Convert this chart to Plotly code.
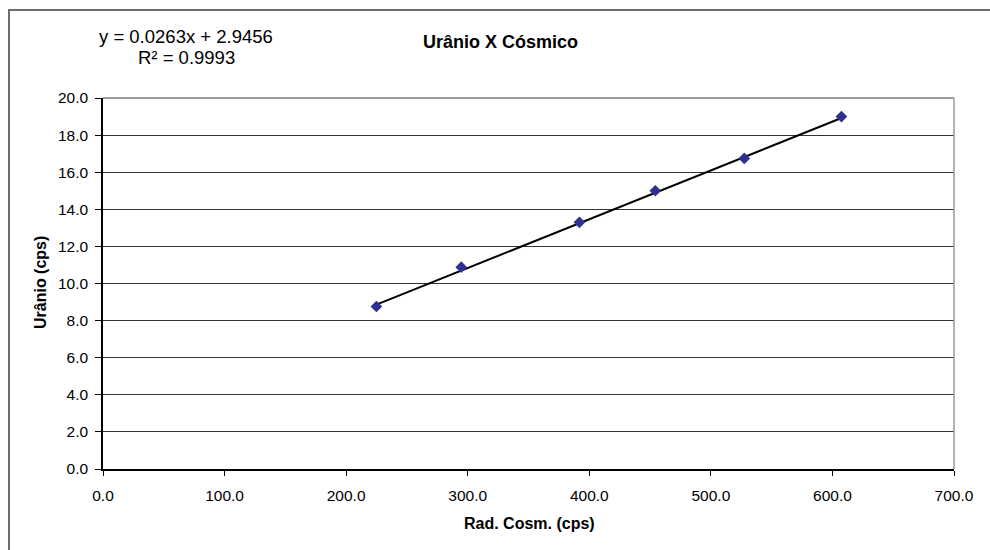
import plotly.graph_objects as go

# Cosmic radiation count rate vs. uranium count rate
rad_cosm = [224.9, 294.7, 391.9, 454.3, 527.5, 607.4]
uranio = [8.76, 10.88, 13.30, 15.00, 16.74, 19.00]

# Linear trendline coefficients (as printed on the chart)
slope = 0.0263
intercept = 2.9456
r_squared = 0.9993

title_text = "Urânio X Cósmico"
x_title = "Rad. Cosm. (cps)"
y_title = "Urânio (cps)"

W, H = 990, 550
ML, MR, MT, MB = 103, 36, 98, 81
PW, PH = W - ML - MR, H - MT - MB


def px_x(p):
    return (p - ML) / PW


def px_y(p):
    return (H - MB - p) / PH


FONT = "Liberation Sans, Arial, sans-serif"

trend_x = [min(rad_cosm), max(rad_cosm)]
trend_y = [slope * v + intercept for v in trend_x]

fig = go.Figure()
fig.add_trace(go.Scatter(
    x=trend_x, y=trend_y, mode="lines",
    line=dict(color="black", width=2), hoverinfo="skip", showlegend=False,
))
fig.add_trace(go.Scatter(
    x=rad_cosm, y=uranio, mode="markers",
    marker=dict(symbol="diamond", size=9, color="#2e3192",
                line=dict(color="#2e3192", width=0)),
    showlegend=False,
))

fig.update_layout(
    width=W, height=H,
    margin=dict(l=ML, r=MR, t=MT, b=MB),
    paper_bgcolor="white", plot_bgcolor="white",
    font=dict(family=FONT, color="black", size=15.5),
    xaxis=dict(
        range=[0, 700], dtick=100, tickformat=".1f",
        showgrid=False, zeroline=False,
        showline=True, linecolor="black", linewidth=1.5,
        ticks="outside", ticklen=5, tickcolor="black", tickwidth=1,
        ticklabelstandoff=7,
        tickfont=dict(size=15.5),
    ),
    yaxis=dict(
        range=[0, 20], dtick=2, tickformat=".1f",
        showgrid=True, gridcolor="#333333", gridwidth=1.2,
        zeroline=False,
        showline=True, linecolor="black", linewidth=1.5,
        ticks="outside", ticklen=6, tickcolor="black", tickwidth=1,
        ticklabelstandoff=4,
        tickfont=dict(size=15.5),
    ),
    shapes=[
        # outer chart frame (left and top edges visible)
        dict(type="rect", xref="paper", yref="paper",
             x0=px_x(9), x1=px_x(1200), y0=px_y(700), y1=px_y(10),
             line=dict(color="#6e6e6e", width=2), layer="below"),
        # plot area border, top and right
        dict(type="line", xref="paper", yref="paper",
             x0=0, x1=1, y0=1, y1=1, line=dict(color="#7a7a7a", width=1.5)),
        dict(type="line", xref="paper", yref="paper",
             x0=1, x1=1, y0=0, y1=1, line=dict(color="#9a9a9a", width=1.5)),
    ],
    annotations=[
        dict(text=f"<b>{title_text}</b>", xref="paper", yref="paper",
             x=px_x(500), y=px_y(42), showarrow=False,
             xanchor="center", yanchor="middle", font=dict(size=18)),
        dict(text=f"y = {slope}x + {intercept}", xref="paper", yref="paper",
             x=px_x(186), y=px_y(37), showarrow=False,
             xanchor="center", yanchor="middle", font=dict(size=18.5)),
        dict(text=f"R² = {r_squared}", xref="paper", yref="paper",
             x=px_x(186), y=px_y(58), showarrow=False,
             xanchor="center", yanchor="middle", font=dict(size=18.5)),
        dict(text=f"<b>{x_title}</b>", xref="paper", yref="paper",
             x=px_x(529), y=px_y(523), showarrow=False,
             xanchor="center", yanchor="middle", font=dict(size=16)),
        dict(text=f"<b>{y_title}</b>", xref="paper", yref="paper",
             x=px_x(40), y=px_y(283), showarrow=False, textangle=-90,
             xanchor="center", yanchor="middle", font=dict(size=16)),
    ],
)

fig.write_html("out.html")
